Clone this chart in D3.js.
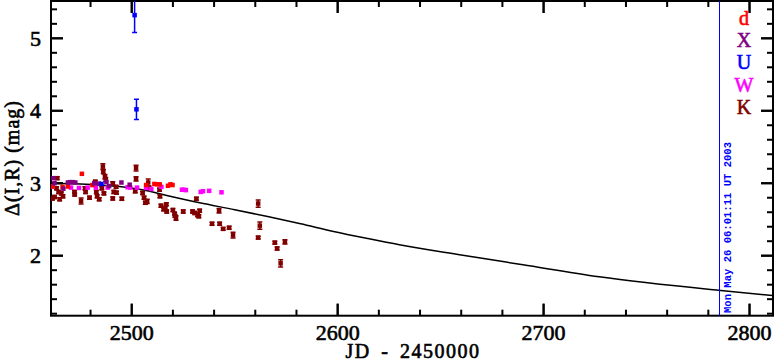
<!DOCTYPE html>
<html>
<head>
<meta charset="utf-8">
<script src="https://cdn.jsdelivr.net/npm/d3@7"></script>
</head>
<body style="margin:0">
<svg id="chart" width="775" height="362"></svg>
<script>
// photometry points, [JD - 2450000, delta mag, error]
const seriesK = [
  [2461.5, 2.79, 0.02], [2462.5, 2.81, 0.02], [2463.8, 3.07, 0.02], [2463.5, 2.93, 0.02],
  [2464.5, 2.88, 0.02], [2465.0, 2.78, 0.02], [2465.8, 2.86, 0.02], [2466.6, 2.82, 0.02],
  [2472.2, 2.88, 0.02], [2472.3, 2.845, 0.02], [2475.4, 2.755, 0.04], [2477.3, 2.93, 0.02],
  [2477.6, 2.88, 0.02], [2479.5, 2.80, 0.02], [2482.3, 3.02, 0.02], [2482.8, 2.88, 0.02],
  [2483.2, 2.82, 0.02], [2484.2, 2.78, 0.02], [2486.0, 3.23, 0.04], [2486.2, 3.16, 0.03],
  [2487.0, 3.09, 0.03], [2487.4, 3.05, 0.03], [2485.5, 2.93, 0.02], [2486.5, 2.86, 0.02],
  [2490.8, 3.00, 0.02], [2491.3, 2.88, 0.02], [2490.8, 2.79, 0.02], [2492.4, 2.95, 0.02],
  [2492.6, 2.87, 0.02], [2495.2, 2.785, 0.02], [2502.1, 3.21, 0.04], [2502.1, 3.06, 0.03],
  [2501.7, 2.89, 0.02], [2505.3, 2.865, 0.02], [2506.0, 2.80, 0.02], [2506.6, 2.73, 0.02],
  [2508.0, 3.01, 0.05], [2508.4, 2.94, 0.02], [2507.5, 2.75, 0.03], [2513.5, 2.91, 0.02],
  [2513.7, 2.82, 0.02], [2514.2, 2.69, 0.02], [2515.5, 2.64, 0.02], [2516.3, 2.66, 0.02],
  [2517.0, 2.61, 0.02], [2516.8, 2.71, 0.02], [2520.0, 2.63, 0.02], [2520.8, 2.58, 0.02],
  [2521.5, 2.52, 0.03], [2521.0, 2.55, 0.02], [2525.0, 2.61, 0.02], [2529.5, 2.61, 0.02],
  [2530.6, 2.59, 0.02], [2531.4, 2.785, 0.02], [2532.0, 2.56, 0.02], [2533.0, 2.62, 0.02],
  [2532.6, 2.545, 0.02], [2539.0, 2.44, 0.02], [2542.4, 2.62, 0.03], [2542.7, 2.44, 0.02],
  [2544.4, 2.37, 0.02], [2547.3, 2.385, 0.02], [2549.2, 2.285, 0.04], [2561.4, 2.72, 0.05],
  [2562.2, 2.415, 0.05], [2561.4, 2.25, 0.02], [2569.5, 2.18, 0.02], [2570.6, 2.10, 0.02],
  [2572.3, 1.895, 0.05], [2574.4, 2.19, 0.03]
];
const seriesW = [
  [2461.0, 2.95, 0], [2470.5, 2.94, 0], [2474.4, 2.935, 0], [2478.6, 2.94, 0], [2482.6, 2.94, 0],
  [2488.3, 2.94, 0], [2498.0, 2.945, 0], [2499.3, 2.94, 0], [2502.6, 2.94, 0], [2507.0, 2.935, 0],
  [2509.5, 2.92, 0], [2514.4, 2.95, 0], [2524.4, 2.91, 0], [2525.2, 2.91, 0], [2526.3, 2.905, 0],
  [2533.5, 2.88, 0], [2534.6, 2.89, 0], [2537.6, 2.895, 0], [2543.6, 2.875, 0]
];
const seriesD = [
  [2461.6, 2.955, 0], [2466.4, 2.95, 0], [2469.0, 2.955, 0], [2475.8, 3.13, 0], [2480.9, 2.975, 0],
  [2507.0, 2.975, 0], [2511.0, 2.99, 0], [2512.3, 2.985, 0], [2513.6, 2.985, 0], [2517.6, 2.965, 0],
  [2518.8, 2.985, 0], [2519.8, 2.975, 0]
];
const seriesX = [
  [2462.0, 3.07, 0], [2462.5, 3.0, 0], [2466.8, 2.925, 0], [2469.0, 3.01, 0], [2470.0, 3.015, 0],
  [2471.4, 3.015, 0], [2472.6, 3.01, 0], [2481.8, 3.0, 0], [2484.0, 2.995, 0], [2487.7, 3.02, 0],
  [2489.0, 2.96, 0], [2495.0, 3.01, 0], [2499.0, 2.98, 0]
];
const seriesU = [
  [2485.3, 2.99, 0], [2501.4, 5.32, 0.24], [2502.3, 4.02, 0.14]
];

// model curve
const curveJD  = [2460.8, 2475, 2485, 2495, 2505, 2517, 2533, 2550, 2566, 2582, 2598, 2614, 2630, 2660, 2690, 2727, 2786, 2811.4];
const curveMag = [3.00, 2.99, 2.975, 2.95, 2.91, 2.83, 2.73, 2.635, 2.54, 2.44, 2.335, 2.24, 2.15, 2.01, 1.875, 1.71, 1.52, 1.45];

const legendLabels = ["d", "X", "U", "W", "K"];
const legendColors = ["#ff0000", "#800080", "#0000ff", "#ff00ff", "#800000"];

const xMajor = [2500, 2600, 2700, 2800];
const xMinor = d3.range(2480, 2812, 20);
const yMajor = [2, 3, 4, 5];
const yMinor = d3.range(1.2, 5.6, 0.2);

const stamp = "Mon May 26 06:01:11 UT 2003";

// plot box
const plotLeft = 51, plotRight = 773, plotTop = 1, plotBottom = 315.7;
const serif = "'Liberation Serif', serif";

const svg = d3.select("#chart");

const xScale = d3.scaleLinear().domain([2460.8, 2811.4]).range([plotLeft, plotRight]);
const yScale = d3.scaleLinear().domain([1.172, 5.515]).range([plotBottom, plotTop]);

svg.append("clipPath").attr("id", "plotclip")
  .append("rect")
  .attr("x", plotLeft).attr("y", plotTop)
  .attr("width", plotRight - plotLeft).attr("height", plotBottom - plotTop);

// inward ticks on all four sides, as thin rects
const tickRects = [];
xMinor.concat(xMajor).forEach(v => {
  const len = xMajor.includes(v) ? 12 : 6;
  const x = xScale(v) - 1;
  tickRects.push({ x: x, y: plotBottom - len, w: 2, h: len });
  tickRects.push({ x: x, y: plotTop, w: 2, h: len });
});
yMinor.concat(yMajor).forEach(v => {
  const len = yMajor.includes(v) ? 12 : 6;
  const y = yScale(v) - 1;
  tickRects.push({ x: plotLeft, y: y, w: len, h: 2 });
  tickRects.push({ x: plotRight - len, y: y, w: len, h: 2 });
});

svg.append("g").selectAll("rect")
  .data(tickRects).enter().append("rect")
  .attr("x", d => d.x).attr("y", d => d.y)
  .attr("width", d => d.w).attr("height", d => d.h)
  .attr("fill", "#000");

// frame
svg.append("rect")
  .attr("x", plotLeft).attr("y", plotTop)
  .attr("width", plotRight - plotLeft).attr("height", plotBottom - plotTop)
  .attr("fill", "none").attr("stroke", "#000").attr("stroke-width", 2);

// tick labels
svg.append("g").selectAll("text")
  .data(xMajor).enter().append("text")
  .attr("x", d => xScale(d))
  .attr("y", 340)
  .attr("text-anchor", "middle")
  .style("font-family", serif)
  .attr("font-size", 22)
  .attr("stroke", "#000").attr("stroke-width", 0.6)
  .text(d => d);

svg.append("g").selectAll("text")
  .data(yMajor).enter().append("text")
  .attr("x", 41)
  .attr("y", d => yScale(d))
  .attr("dy", "0.35em")
  .attr("text-anchor", "end")
  .style("font-family", serif)
  .attr("font-size", 22)
  .attr("stroke", "#000").attr("stroke-width", 0.6)
  .text(d => d);

// axis titles
svg.append("text")
  .attr("x", 413).attr("y", 358)
  .attr("text-anchor", "middle")
  .style("font-family", serif)
  .attr("font-size", 20)
  .attr("letter-spacing", 1.5)
  .attr("stroke", "#000").attr("stroke-width", 0.6)
  .attr("word-spacing", 4)
  .text("JD - 2450000");

svg.append("text")
  .attr("transform", "translate(19,158) rotate(-90)")
  .attr("text-anchor", "middle")
  .style("font-family", serif)
  .attr("font-size", 20)
  .attr("letter-spacing", 1)
  .attr("stroke", "#000").attr("stroke-width", 0.6)
  .text("\u0394(I,R) (mag)");

// model curve
const line = d3.line()
  .x((d, i) => xScale(curveJD[i]))
  .y(d => yScale(d))
  .curve(d3.curveMonotoneX);

svg.append("path")
  .datum(curveMag)
  .attr("clip-path", "url(#plotclip)")
  .attr("d", line)
  .attr("fill", "none")
  .attr("stroke", "#000")
  .attr("stroke-width", 1.5);

// points with error bars
function drawSeries(data, color) {
  const g = svg.append("g").attr("clip-path", "url(#plotclip)");
  const withErr = data.filter(d => d[2] > 0);
  g.selectAll(".ebar").data(withErr).enter().append("line")
    .attr("x1", d => xScale(d[0])).attr("x2", d => xScale(d[0]))
    .attr("y1", d => yScale(d[1] - d[2])).attr("y2", d => yScale(d[1] + d[2]))
    .attr("stroke", color).attr("stroke-width", 1.5);
  [-1, 1].forEach(s => {
    g.selectAll(".cap").data(withErr).enter().append("line")
      .attr("x1", d => xScale(d[0]) - 2.5).attr("x2", d => xScale(d[0]) + 2.5)
      .attr("y1", d => yScale(d[1] + s * d[2])).attr("y2", d => yScale(d[1] + s * d[2]))
      .attr("stroke", color).attr("stroke-width", 1.5);
  });
  g.selectAll("rect").data(data).enter().append("rect")
    .attr("x", d => xScale(d[0]) - 2.25)
    .attr("y", d => yScale(d[1]) - 2.25)
    .attr("width", 4.5).attr("height", 4.5)
    .attr("fill", color);
}
drawSeries(seriesK, legendColors[4]);
drawSeries(seriesW, legendColors[3]);
drawSeries(seriesD, legendColors[0]);
drawSeries(seriesX, legendColors[1]);
drawSeries(seriesU, legendColors[2]);

// date stamp
svg.append("line")
  .attr("x1", 719.5).attr("x2", 719.5)
  .attr("y1", plotTop).attr("y2", plotBottom)
  .attr("stroke", "#0000ff").attr("stroke-width", 1);

svg.append("text")
  .attr("transform", "translate(731,313) rotate(-90)")
  .style("font-family", "'Liberation Mono', monospace")
  .attr("font-size", 10.5)
  .attr("font-weight", "bold")
  .attr("textLength", 171)
  .attr("fill", "#0000ff")
  .text(stamp);

// legend
svg.append("g").selectAll("text")
  .data(legendLabels).enter().append("text")
  .attr("x", 744)
  .attr("y", (d, i) => 18 + i * 22.2)
  .attr("dy", "0.35em")
  .attr("text-anchor", "middle")
  .style("font-family", serif)
  .attr("font-size", 20)
  .attr("fill", (d, i) => legendColors[i])
  .attr("stroke", (d, i) => legendColors[i])
  .attr("stroke-width", 0.6)
  .text(d => d);
</script>
</body>
</html>
